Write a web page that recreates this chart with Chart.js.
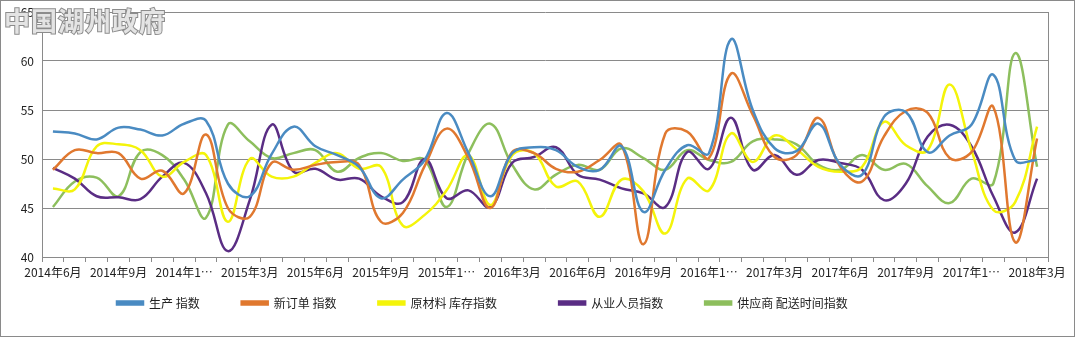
<!DOCTYPE html>
<html>
<head>
<meta charset="utf-8">
<script src="https://cdn.jsdelivr.net/npm/chart.js@4.4.0/dist/chart.umd.min.js"></script>
<style>
  body { margin: 0; background: #fff; }
  #wrap { position: relative; width: 1075px; height: 337px; }
  #mark {
    position: absolute; left: 4px; top: 1px;
    font: bold 26px "Noto Sans CJK SC", sans-serif;
    color: #e4e4e4; -webkit-text-stroke: 2px #8c8c8c; paint-order: stroke fill;
    letter-spacing: 1px;
  }
</style>
</head>
<body>
<div id="wrap">
  <canvas id="chart"></canvas>
  <div id="mark">中国湖州政府</div>
</div>
<script>
// 月份 (2014年6月 - 2018年3月)
const months = [
  '2014年6月','2014年7月','2014年8月','2014年9月','2014年10月','2014年11月','2014年12月',
  '2015年1月','2015年2月','2015年3月','2015年4月','2015年5月','2015年6月','2015年7月','2015年8月','2015年9月','2015年10月','2015年11月','2015年12月',
  '2016年1月','2016年2月','2016年3月','2016年4月','2016年5月','2016年6月','2016年7月','2016年8月','2016年9月','2016年10月','2016年11月','2016年12月',
  '2017年1月','2017年2月','2017年3月','2017年4月','2017年5月','2017年6月','2017年7月','2017年8月','2017年9月','2017年10月','2017年11月','2017年12月',
  '2018年1月','2018年2月','2018年3月'
];
// 每三个月显示一次的刻度标签
const tickLabels = [
  '2014年6月','2014年9月','2014年1…','2015年3月','2015年6月','2015年9月','2015年1…','2016年3月',
  '2016年6月','2016年9月','2016年1…','2017年3月','2017年6月','2017年9月','2017年1…','2018年3月'
];

const production = [52.8,52.6,52.0,53.2,53.0,52.4,53.6,53.9,47.5,46.2,50.5,53.3,51.3,50.4,49.2,46.0,47.9,49.9,54.7,50.6,46.2,50.6,51.2,50.9,49.2,48.9,51.3,44.6,48.9,51.4,50.6,62.2,55.0,51.1,50.8,53.6,49.4,48.4,54.3,54.8,50.7,52.4,53.5,58.6,49.9,49.9];
const newOrders = [48.9,50.9,50.6,50.6,48.0,48.8,46.5,52.5,45.0,44.1,49.6,48.9,49.4,49.7,49.4,43.6,44.5,49.3,53.1,50.1,45.0,50.7,50.6,49.0,48.7,49.9,51.4,41.3,52.6,52.8,50.1,58.7,54.5,50.2,50.4,54.2,49.2,47.7,52.3,54.9,54.7,50.1,50.7,55.3,41.5,52.1];
const rawStock = [47.0,46.9,51.3,51.5,50.9,48.2,49.7,50.4,43.6,50.0,48.2,48.2,49.6,50.6,49.0,49.2,43.2,44.3,46.8,50.4,45.3,50.4,50.6,47.2,47.7,44.1,47.9,46.7,42.4,48.0,46.8,52.6,49.7,52.4,51.0,49.2,48.7,49.2,53.8,51.4,50.9,57.6,50.9,44.8,45.6,53.3];
const employment = [49.1,48.0,46.2,46.1,45.9,48.2,49.6,46.5,40.6,45.8,53.5,48.7,49.0,47.9,48.0,46.2,45.6,50.0,46.0,46.8,45.1,49.6,50.2,51.2,48.4,47.9,47.0,46.5,45.1,50.7,49.0,54.2,48.9,50.4,48.4,49.9,49.6,48.9,45.8,47.5,52.3,53.5,51.3,46.2,42.5,48.0];
const delivery = [45.1,47.7,48.1,46.2,50.7,50.4,47.9,44.0,53.5,51.8,50.1,50.6,50.9,48.7,50.1,50.6,49.8,49.9,45.1,50.6,53.6,49.4,46.9,48.4,49.4,48.9,51.1,50.1,48.9,50.9,49.9,49.7,51.8,52.0,51.5,49.4,48.9,50.4,48.9,49.5,47.2,45.5,48.0,47.5,60.8,49.2];

const seriesNames = ['生产 指数','新订单 指数','原材料 库存指数\u3000   ','从业人员指数','供应商 配送时间指数'];
const seriesColors = ['#4a8bc2','#e0782f','#f4f40a','#5a2d84','#8dbf5d'];
const seriesData = [production, newOrders, rawStock, employment, delivery];

// 外框、绘图区右边框，图例位置
const framePlugin = {
  id: 'frame',
  afterLayout(chart) {
    chart.legend.left = 75;
    chart.legend.top = chart.chartArea.bottom - 2;
  },
  beforeDraw(chart) {
    const c = chart.ctx;
    c.save();
    c.fillStyle = '#fff';
    c.fillRect(0, 0, chart.width, chart.height);
    c.strokeStyle = '#8a8a8a';
    c.lineWidth = 1;
    c.strokeRect(0.5, 0.5, chart.width - 1, chart.height - 1);
    c.restore();
  },
  afterDatasetsDraw(chart) {
    const a = chart.chartArea;
    const c = chart.ctx;
    c.save();
    c.strokeStyle = '#8a8a8a';
    c.lineWidth = 1;
    c.beginPath();
    c.moveTo(Math.round(a.right) + 0.5, a.top);
    c.lineTo(Math.round(a.right) + 0.5, a.bottom);
    c.stroke();
    c.restore();
  }
};

const font = '"Noto Sans CJK SC", "Liberation Sans", sans-serif';

new Chart(document.getElementById('chart'), {
  type: 'line',
  data: {
    labels: months,
    datasets: seriesData.map((d, i) => ({
      label: seriesNames[i],
      data: d,
      borderColor: seriesColors[i],
      backgroundColor: seriesColors[i],
      borderWidth: 2.5,
      pointRadius: 0,
      tension: 0.4,
      fill: false
    }))
  },
  options: {
    responsive: true,
    maintainAspectRatio: false,
    animation: false,
    layout: { padding: { left: 0, right: 27, top: 12, bottom: 2 } },
    plugins: {
      legend: {
        position: 'bottom',
        align: 'start',
        maxHeight: 50,
        labels: {
          boxWidth: 26,
          boxHeight: 3,
          padding: 42,
          color: '#222',
          font: { family: font, size: 12 }
        }
      },
      tooltip: { enabled: false }
    },
    scales: {
      x: {
        offset: true,
        grid: { drawOnChartArea: false, drawTicks: true, tickLength: 5, offset: true, color: '#8a8a8a' },
        border: { color: '#8a8a8a' },
        ticks: {
          autoSkip: false,
          maxRotation: 0,
          padding: 3,
          color: '#222',
          font: { family: font, size: 12 },
          callback: (v, i) => (i % 3 === 0 ? tickLabels[i / 3] : '')
        },
        afterFit: s => { s.height = 28; }
      },
      y: {
        min: 40,
        max: 65,
        ticks: { stepSize: 5, padding: 8, color: '#222', font: { family: font, size: 12 } },
        grid: { drawTicks: false, color: '#8a8a8a' },
        border: { color: '#8a8a8a' },
        afterFit: s => { s.width = 42; s.paddingTop = 0; s.paddingBottom = 0; }
      }
    }
  },
  plugins: [framePlugin]
});
</script>
</body>
</html>
